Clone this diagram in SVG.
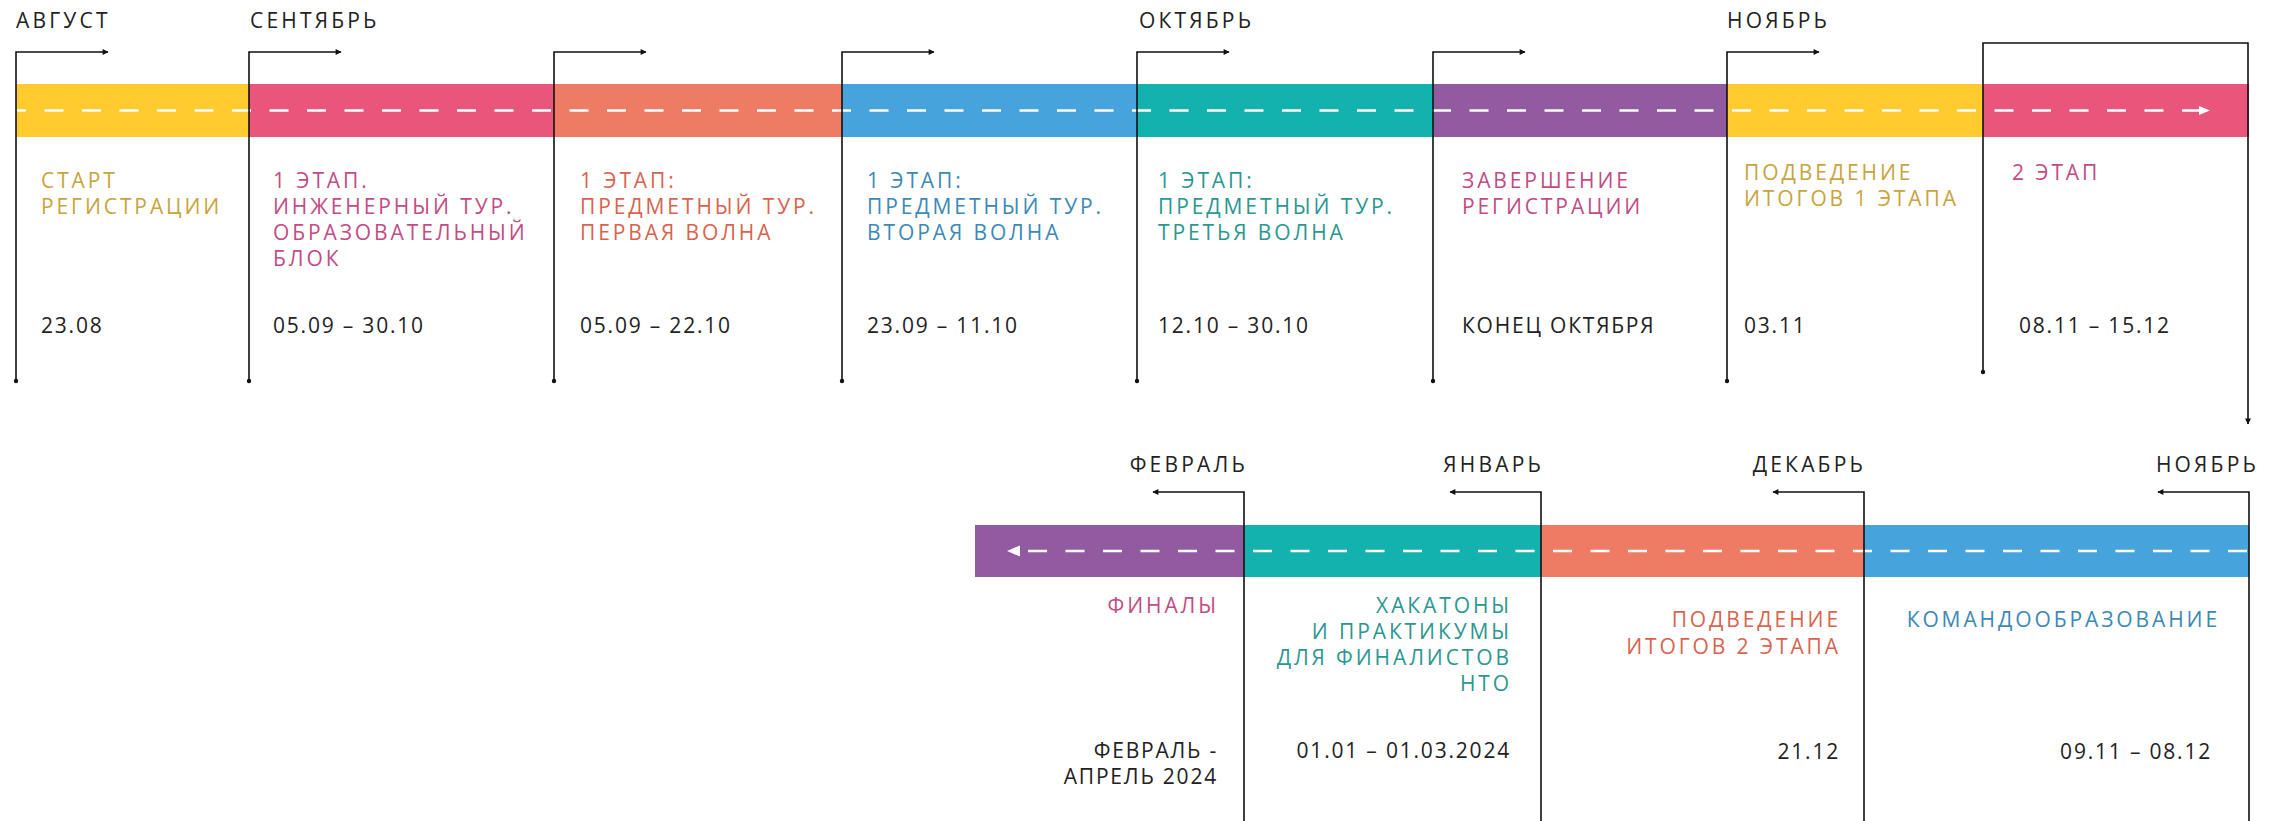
<svg xmlns="http://www.w3.org/2000/svg" width="2280" height="821" viewBox="0 0 2280 821">
<style>
.bg{fill:#ffffff}
.month{font-family:"Open Sans","Liberation Sans",sans-serif;font-weight:400;font-size:21px;letter-spacing:3.2px;fill:#222222}
.lbl{font-family:"Open Sans","Liberation Sans",sans-serif;font-weight:400;font-size:21px;letter-spacing:2.9px}
.date{font-family:"Open Sans","Liberation Sans",sans-serif;font-weight:400;font-size:21px;letter-spacing:1.8px;fill:#222222}
.end{text-anchor:end}
.c-gold{fill:#c8a43e}
.c-mag{fill:#c24c84}
.c-sal{fill:#d8644f}
.c-blue{fill:#3c89b6}
.c-teal{fill:#2b9791}
.conn{fill:none;stroke:#111;stroke-width:1.6}
.dash{fill:none;stroke:#ffffff;stroke-width:2.6;stroke-dasharray:19 18.5}
.dot{fill:#111}
</style>
<defs>
<marker id="ah" viewBox="0 0 10 10" refX="9" refY="5" markerWidth="7" markerHeight="6" markerUnits="userSpaceOnUse" orient="auto">
<path d="M0,0 L10,5 L0,10 z" fill="#111"/>
</marker>
</defs>
<rect class="bg" x="0" y="0" width="2280" height="821"/>

<!-- top row bars -->
<g id="bars-top">
<rect x="16" y="84" width="233" height="53" fill="#ffcb2f"/>
<rect x="249" y="84" width="305" height="53" fill="#ea557c"/>
<rect x="554" y="84" width="288" height="53" fill="#ee7b64"/>
<rect x="842" y="84" width="295" height="53" fill="#47a3db"/>
<rect x="1137" y="84" width="297" height="53" fill="#14b2ae"/>
<rect x="1434" y="84" width="293" height="53" fill="#925aa0"/>
<rect x="1727" y="84" width="256" height="53" fill="#ffcb2f"/>
<rect x="1983" y="84" width="266" height="53" fill="#ea557c"/>
<line class="dash" x1="17" y1="110.5" x2="2200" y2="110.5" stroke-dashoffset="10"/>
<path d="M2199,106 L2210,110.5 L2199,115 z" fill="#ffffff"/>
</g>

<!-- bottom row bars -->
<g id="bars-bottom">
<rect x="975" y="525" width="269" height="52" fill="#925aa0"/>
<rect x="1244" y="525" width="297" height="52" fill="#14b2ae"/>
<rect x="1541" y="525" width="323" height="52" fill="#ee7b64"/>
<rect x="1864" y="525" width="385" height="52" fill="#47a3db"/>
<line class="dash" x1="2247" y1="551" x2="1019" y2="551"/>
<path d="M1020,545.5 L1007,551 L1020,556.5 z" fill="#ffffff"/>
</g>

<!-- connectors -->
<g id="connectors">
<path class="conn" d="M16,381 V52 H108" marker-end="url(#ah)"/>
<path class="conn" d="M249,381 V52 H341" marker-end="url(#ah)"/>
<path class="conn" d="M554,381 V52 H646" marker-end="url(#ah)"/>
<path class="conn" d="M842,381 V52 H934" marker-end="url(#ah)"/>
<path class="conn" d="M1137,381 V52 H1229" marker-end="url(#ah)"/>
<path class="conn" d="M1433,381 V52 H1525" marker-end="url(#ah)"/>
<path class="conn" d="M1727,381 V52 H1819" marker-end="url(#ah)"/>
<path class="conn" d="M1983,372 V43 H2248 V424" marker-end="url(#ah)"/>
<circle class="dot" cx="16" cy="381" r="2.2"/>
<circle class="dot" cx="249" cy="381" r="2.2"/>
<circle class="dot" cx="554" cy="381" r="2.2"/>
<circle class="dot" cx="842" cy="381" r="2.2"/>
<circle class="dot" cx="1137" cy="381" r="2.2"/>
<circle class="dot" cx="1433" cy="381" r="2.2"/>
<circle class="dot" cx="1727" cy="381" r="2.2"/>
<circle class="dot" cx="1983" cy="372" r="2.2"/>
<path class="conn" d="M1244,821 V492 H1153" marker-end="url(#ah)"/>
<path class="conn" d="M1541,821 V492 H1450" marker-end="url(#ah)"/>
<path class="conn" d="M1864,821 V492 H1773" marker-end="url(#ah)"/>
<path class="conn" d="M2249,821 V492 H2158" marker-end="url(#ah)"/>
</g>

<!-- top row nodes -->
<g id="node-august">
<text class="month" x="16" y="28">АВГУСТ</text>
<text class="lbl c-gold" x="41" y="188">СТАРТ</text>
<text class="lbl c-gold" x="41" y="214">РЕГИСТРАЦИИ</text>
<text class="date" x="41" y="333">23.08</text>
</g>
<g id="node-september">
<text class="month" x="250" y="28">СЕНТЯБРЬ</text>
<text class="lbl c-mag" x="273" y="188">1 ЭТАП.</text>
<text class="lbl c-mag" x="273" y="214">ИНЖЕНЕРНЫЙ ТУР.</text>
<text class="lbl c-mag" x="273" y="240">ОБРАЗОВАТЕЛЬНЫЙ</text>
<text class="lbl c-mag" x="273" y="266">БЛОК</text>
<text class="date" x="273" y="333">05.09 – 30.10</text>
</g>
<g id="node-wave1">
<text class="lbl c-sal" x="580" y="188">1 ЭТАП:</text>
<text class="lbl c-sal" x="580" y="214">ПРЕДМЕТНЫЙ ТУР.</text>
<text class="lbl c-sal" x="580" y="240">ПЕРВАЯ ВОЛНА</text>
<text class="date" x="580" y="333">05.09 – 22.10</text>
</g>
<g id="node-wave2">
<text class="lbl c-blue" x="867" y="188">1 ЭТАП:</text>
<text class="lbl c-blue" x="867" y="214">ПРЕДМЕТНЫЙ ТУР.</text>
<text class="lbl c-blue" x="867" y="240">ВТОРАЯ ВОЛНА</text>
<text class="date" x="867" y="333">23.09 – 11.10</text>
</g>
<g id="node-october">
<text class="month" x="1139" y="28">ОКТЯБРЬ</text>
<text class="lbl c-teal" x="1158" y="188">1 ЭТАП:</text>
<text class="lbl c-teal" x="1158" y="214">ПРЕДМЕТНЫЙ ТУР.</text>
<text class="lbl c-teal" x="1158" y="240">ТРЕТЬЯ ВОЛНА</text>
<text class="date" x="1158" y="333">12.10 – 30.10</text>
</g>
<g id="node-reg-end">
<text class="lbl c-mag" x="1462" y="188">ЗАВЕРШЕНИЕ</text>
<text class="lbl c-mag" x="1462" y="214">РЕГИСТРАЦИИ</text>
<text class="date" x="1462" y="333">КОНЕЦ ОКТЯБРЯ</text>
</g>
<g id="node-november">
<text class="month" x="1727" y="28">НОЯБРЬ</text>
<text class="lbl c-gold" x="1744" y="180">ПОДВЕДЕНИЕ</text>
<text class="lbl c-gold" x="1744" y="206">ИТОГОВ 1 ЭТАПА</text>
<text class="date" x="1744" y="333">03.11</text>
</g>
<g id="node-stage2">
<text class="lbl c-mag" x="2012" y="180">2 ЭТАП</text>
<text class="date" x="2019" y="333">08.11 – 15.12</text>
</g>

<!-- bottom row nodes -->
<g id="node-november-2">
<text class="month end" x="2259" y="472">НОЯБРЬ</text>
<text class="lbl c-blue end" x="2220" y="627">КОМАНДООБРАЗОВАНИЕ</text>
<text class="date end" x="2212" y="759">09.11 – 08.12</text>
</g>
<g id="node-december">
<text class="month end" x="1866" y="472">ДЕКАБРЬ</text>
<text class="lbl c-sal end" x="1841" y="627">ПОДВЕДЕНИЕ</text>
<text class="lbl c-sal end" x="1841" y="654">ИТОГОВ 2 ЭТАПА</text>
<text class="date end" x="1840" y="759">21.12</text>
</g>
<g id="node-january">
<text class="month end" x="1544" y="472">ЯНВАРЬ</text>
<text class="lbl c-teal end" x="1512" y="613">ХАКАТОНЫ</text>
<text class="lbl c-teal end" x="1512" y="639">И ПРАКТИКУМЫ</text>
<text class="lbl c-teal end" x="1512" y="665">ДЛЯ ФИНАЛИСТОВ</text>
<text class="lbl c-teal end" x="1512" y="691">НТО</text>
<text class="date end" x="1511" y="758">01.01 – 01.03.2024</text>
</g>
<g id="node-february">
<text class="month end" x="1248" y="472">ФЕВРАЛЬ</text>
<text class="lbl c-mag end" x="1219" y="613">ФИНАЛЫ</text>
<text class="date end" x="1218" y="758">ФЕВРАЛЬ -</text>
<text class="date end" x="1218" y="784">АПРЕЛЬ 2024</text>
</g>
</svg>
